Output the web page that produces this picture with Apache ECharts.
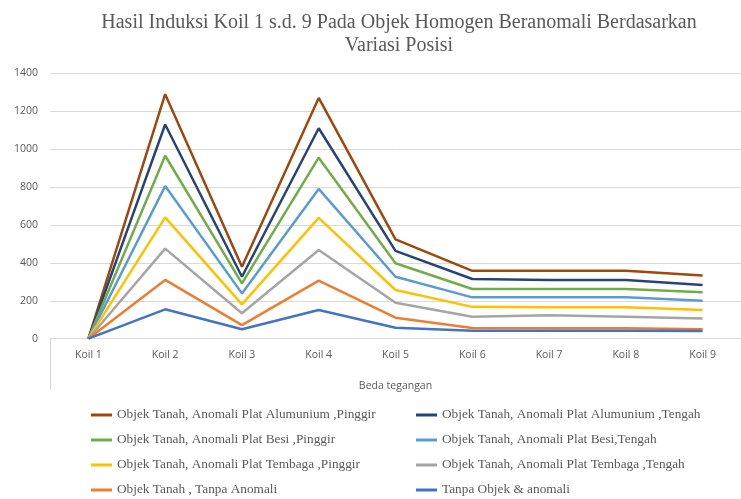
<!DOCTYPE html>
<html><head><meta charset="utf-8">
<script src="https://cdn.jsdelivr.net/npm/echarts@6/dist/echarts.min.js"></script>
<style>html,body{margin:0;padding:0;background:#fff}#c{width:741px;height:499px}</style>
</head><body><div id="c"></div>
<script>
const categories = ['Koil 1','Koil 2','Koil 3','Koil 4','Koil 5','Koil 6','Koil 7','Koil 8','Koil 9'];
const seriesNames = [
  'Objek Tanah, Anomali Plat Alumunium ,Pinggir',
  'Objek Tanah, Anomali Plat Alumunium ,Tengah',
  'Objek Tanah, Anomali Plat Besi ,Pinggir',
  'Objek Tanah, Anomali Plat Besi,Tengah',
  'Objek Tanah, Anomali Plat Tembaga ,Pinggir',
  'Objek Tanah, Anomali Plat Tembaga ,Tengah',
  'Objek Tanah , Tanpa Anomali',
  'Tanpa Objek & anomali'
];
const alumPinggir  = [0, 1290, 380, 1270, 524, 358, 358, 358, 333];
const alumTengah   = [0, 1130, 327, 1110, 463, 315, 310, 310, 283];
const besiPinggir  = [0, 965, 292, 955, 398, 262, 262, 262, 245];
const besiTengah   = [0, 805, 239, 790, 327, 218, 218, 218, 200];
const tembPinggir  = [0, 640, 181, 637, 257, 168, 166, 166, 151];
const tembTengah   = [0, 475, 134, 468, 190, 116, 124, 116, 107];
const tanpaAnomali = [0, 310, 72, 306, 111, 57, 55, 55, 50];
const tanpaObjek   = [0, 155, 50, 151, 58, 42, 42, 42, 40];
const yTicks = [0, 200, 400, 600, 800, 1000, 1200, 1400];

const values = [alumPinggir, alumTengah, besiPinggir, besiTengah, tembPinggir, tembTengah, tanpaAnomali, tanpaObjek];
const colors = ['#9E480E','#264478','#70AD47','#5B9BD5','#FFC000','#A5A5A5','#ED7D31','#4472C4'];

const chart = echarts.init(document.getElementById('c'), null, {renderer:'canvas'});
const legendText = {fontFamily:'Liberation Serif', fontSize:13.3, color:'#595959', lineHeight:16};
const legendBase = {orient:'vertical', top:407, height:100, padding:0,
  icon:'rect', itemWidth:21, itemHeight:3, itemGap:9, textStyle:legendText};
chart.setOption({
  animation:false,
  color: colors,
  title:{
    text:'Hasil Induksi Koil 1 s.d. 9 Pada Objek Homogen Beranomali Berdasarkan\nVariasi Posisi',
    left:399, top:11, textAlign:'center', padding:0,
    textStyle:{fontFamily:'Liberation Serif', fontSize:20, fontWeight:'normal', color:'#595959', lineHeight:23}
  },
  grid:{left:50, right:-9, top:73.3, bottom:160.3},
  xAxis:{
    type:'category', data:categories, boundaryGap:true,
    axisLine:{lineStyle:{color:'#D9D9D9'}}, axisTick:{show:false},
    axisLabel:{fontFamily:'Open Sans', fontSize:10.5, color:'#595959', margin:11},
    name:'Beda tegangan', nameLocation:'middle', nameGap:42,
    nameTextStyle:{fontFamily:'Open Sans', fontSize:10.5, color:'#595959'}
  },
  yAxis:{
    type:'value', min:yTicks[0], max:yTicks[yTicks.length-1], interval:200,
    axisLine:{show:false}, axisTick:{show:false},
    splitLine:{lineStyle:{color:'#D9D9D9', width:1}},
    axisLabel:{fontFamily:'Open Sans', fontSize:10.5, color:'#595959', margin:12, formatter:(v)=>String(v)}
  },
  legend:[
    Object.assign({data:[seriesNames[0],seriesNames[2],seriesNames[4],seriesNames[6]], left:91}, legendBase),
    Object.assign({data:[seriesNames[1],seriesNames[3],seriesNames[5],seriesNames[7]], left:416}, legendBase)
  ],
  graphic:[{type:'line', shape:{x1:50.5, y1:339, x2:50.5, y2:390}, style:{stroke:'#D9D9D9', lineWidth:1}}],
  series: values.map((v,i)=>({
    name:seriesNames[i], type:'line', data:v, symbol:'none',
    lineStyle:{width:2.5, color:colors[i]}, itemStyle:{color:colors[i]}
  }))
});
</script></body></html>
